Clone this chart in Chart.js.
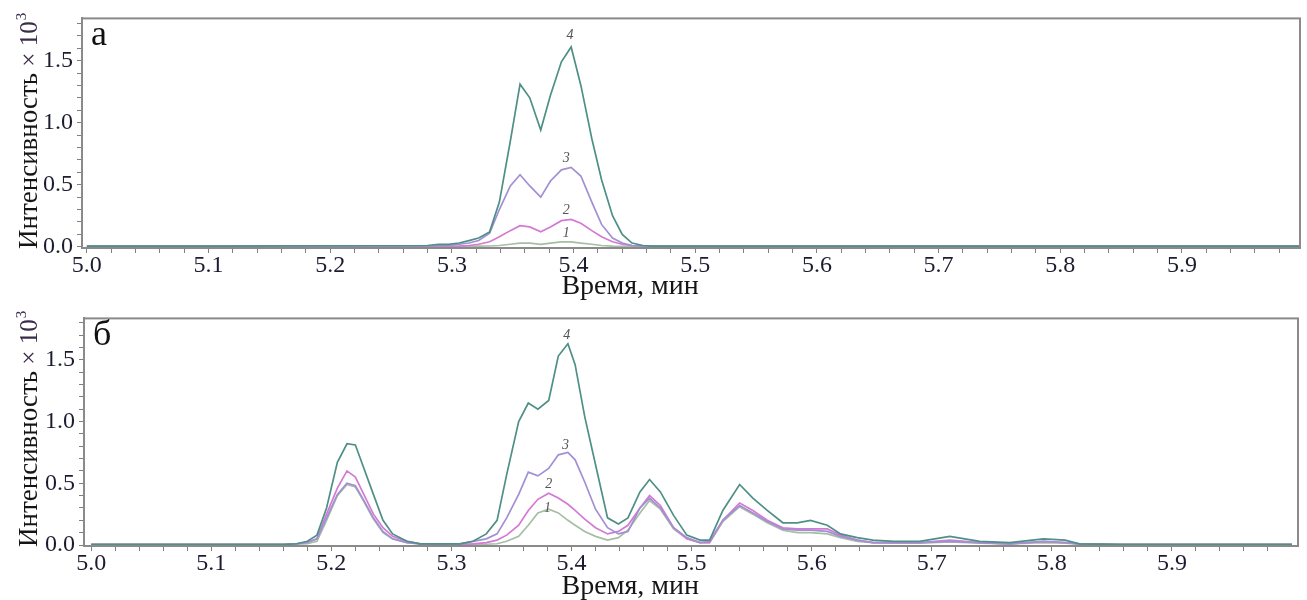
<!DOCTYPE html>
<html>
<head>
<meta charset="utf-8">
<script src="https://cdn.jsdelivr.net/npm/chart.js@4.4.1/dist/chart.umd.min.js"></script>
<style>
  body { margin: 0; background: #fff; }
  canvas { display: block; }
</style>
</head>
<body>
<canvas id="chartA" width="1307" height="300"></canvas>
<canvas id="chartB" width="1307" height="300"></canvas>
<script>
// Панель а: время (мин) и интенсивность (×10^3) для кривых 1–4
const timeA = [5.0, 5.1, 5.2, 5.28, 5.289, 5.297, 5.306, 5.314, 5.322, 5.331, 5.339, 5.348, 5.356, 5.364,
  5.373, 5.381, 5.390, 5.398, 5.406, 5.415, 5.423, 5.432, 5.440, 5.448, 5.457, 5.465, 5.474, 5.5, 5.6, 6.0];
const a1 = [0.004, 0.004, 0.004, 0.004, 0.004, 0.004, 0.004, 0.004, 0.005, 0.006, 0.01, 0.02, 0.03, 0.03,
  0.02, 0.03, 0.04, 0.04, 0.03, 0.02, 0.01, 0.005, 0.004, 0.004, 0.004, 0.004, 0.004, 0.004, 0.004, 0.004];
const a2 = [0.004, 0.004, 0.004, 0.004, 0.004, 0.004, 0.005, 0.01, 0.02, 0.04, 0.08, 0.13, 0.17, 0.16,
  0.12, 0.16, 0.21, 0.22, 0.19, 0.13, 0.08, 0.04, 0.02, 0.01, 0.005, 0.004, 0.004, 0.004, 0.004, 0.004];
const a3 = [0.004, 0.004, 0.005, 0.005, 0.01, 0.01, 0.02, 0.03, 0.05, 0.11, 0.30, 0.49, 0.58, 0.49,
  0.40, 0.53, 0.62, 0.64, 0.57, 0.36, 0.18, 0.07, 0.03, 0.01, 0.005, 0.004, 0.004, 0.004, 0.004, 0.004];
const a4 = [0.005, 0.005, 0.008, 0.01, 0.02, 0.02, 0.03, 0.05, 0.07, 0.12, 0.36, 0.85, 1.31, 1.20,
  0.94, 1.22, 1.49, 1.61, 1.30, 0.87, 0.54, 0.25, 0.10, 0.03, 0.01, 0.005, 0.005, 0.005, 0.005, 0.005];

// Панель б
const timeB = [5.0, 5.1, 5.16, 5.171, 5.180, 5.188, 5.196, 5.205, 5.213, 5.220, 5.226, 5.235, 5.243, 5.251,
  5.263, 5.274, 5.291, 5.307, 5.318, 5.329, 5.338, 5.346, 5.356, 5.364, 5.372, 5.381, 5.389, 5.397, 5.403,
  5.411, 5.420, 5.430, 5.439, 5.447, 5.457, 5.465, 5.474, 5.485, 5.496, 5.507, 5.515, 5.526, 5.540, 5.551,
  5.563, 5.576, 5.588, 5.599, 5.613, 5.624, 5.638, 5.651, 5.668, 5.690, 5.715, 5.740, 5.765, 5.793, 5.811,
  5.823, 5.857, 5.923, 6.0];
const b1 = [0.004, 0.004, 0.004, 0.006, 0.01, 0.03, 0.20, 0.40, 0.49, 0.47, 0.37, 0.21, 0.10, 0.05,
  0.02, 0.01, 0.006, 0.005, 0.005, 0.006, 0.01, 0.03, 0.07, 0.16, 0.26, 0.29, 0.26, 0.20, 0.16,
  0.11, 0.07, 0.04, 0.06, 0.12, 0.26, 0.36, 0.29, 0.13, 0.05, 0.02, 0.02, 0.19, 0.31, 0.25,
  0.18, 0.12, 0.10, 0.10, 0.09, 0.06, 0.03, 0.02, 0.015, 0.015, 0.025, 0.015, 0.01, 0.02, 0.015,
  0.006, 0.004, 0.004, 0.004];
const b2 = [0.004, 0.004, 0.004, 0.01, 0.02, 0.05, 0.25, 0.46, 0.60, 0.55, 0.43, 0.25, 0.14, 0.07,
  0.03, 0.01, 0.006, 0.005, 0.01, 0.02, 0.04, 0.08, 0.16, 0.28, 0.37, 0.42, 0.38, 0.33, 0.28,
  0.21, 0.14, 0.09, 0.11, 0.16, 0.30, 0.40, 0.32, 0.14, 0.05, 0.02, 0.02, 0.20, 0.34, 0.28,
  0.20, 0.14, 0.13, 0.13, 0.13, 0.08, 0.04, 0.02, 0.02, 0.02, 0.04, 0.02, 0.01, 0.03, 0.02,
  0.01, 0.004, 0.004, 0.004];
const b3 = [0.004, 0.004, 0.004, 0.01, 0.02, 0.05, 0.22, 0.41, 0.50, 0.48, 0.38, 0.22, 0.11, 0.05,
  0.02, 0.01, 0.008, 0.01, 0.03, 0.05, 0.09, 0.22, 0.41, 0.59, 0.56, 0.62, 0.73, 0.75, 0.69,
  0.51, 0.29, 0.14, 0.09, 0.11, 0.30, 0.38, 0.30, 0.14, 0.06, 0.02, 0.03, 0.20, 0.32, 0.26,
  0.19, 0.13, 0.12, 0.12, 0.11, 0.07, 0.04, 0.02, 0.02, 0.02, 0.03, 0.02, 0.01, 0.03, 0.02,
  0.01, 0.004, 0.004, 0.004];
const b4 = [0.005, 0.005, 0.005, 0.01, 0.03, 0.08, 0.30, 0.67, 0.82, 0.81, 0.65, 0.41, 0.20, 0.09,
  0.03, 0.01, 0.01, 0.01, 0.03, 0.09, 0.20, 0.57, 1.00, 1.15, 1.10, 1.17, 1.53, 1.63, 1.46,
  1.04, 0.65, 0.22, 0.17, 0.22, 0.43, 0.53, 0.43, 0.24, 0.08, 0.04, 0.04, 0.28, 0.49, 0.38,
  0.28, 0.18, 0.18, 0.20, 0.16, 0.09, 0.06, 0.04, 0.03, 0.03, 0.07, 0.03, 0.02, 0.05, 0.04,
  0.01, 0.005, 0.005, 0.005];

// Подписи осей
const xMajorTicks = [5.0, 5.1, 5.2, 5.3, 5.4, 5.5, 5.6, 5.7, 5.8, 5.9];
const yMajorTicks = [0.0, 0.5, 1.0, 1.5];
const xMinorStep = 0.02;
const yMinorStep = 0.1;

// Номера кривых: [номер, время, интенсивность]
const curveLabelsA = [['4', 5.397, 1.70], ['3', 5.394, 0.71], ['2', 5.394, 0.29], ['1', 5.394, 0.11]];
const curveLabelsB = [['4', 5.396, 1.70], ['3', 5.395, 0.81], ['2', 5.381, 0.49], ['1', 5.380, 0.30]];

const colors = { c1: '#a6bea4', c2: '#d37ad3', c3: '#a28fd4', c4: '#4e8f86' };
const SERIF = '"Liberation Serif", "Times New Roman", serif';

const xTickList = [];
for (let i = 0; i <= 49; i++) xTickList.push(Math.round((5.0 + i * xMinorStep) * 1000) / 1000);
const yTickList = [];
for (let i = 0; i <= 18; i++) yTickList.push(Math.round(i * yMinorStep * 10) / 10);

function isMajor(v, list) {
  return list.some(m => Math.abs(m - v) < 1e-6);
}

const panelPlugin = {
  id: 'panelDeco',
  afterDraw(chart, args, opts) {
    const ctx = chart.ctx;
    const area = chart.chartArea;
    const xs = chart.scales.x, ys = chart.scales.y;
    ctx.save();
    // рамка
    ctx.strokeStyle = '#8a8a8a';
    ctx.lineWidth = 2;
    ctx.strokeRect(area.left, area.top, area.right - area.left, area.bottom - area.top);

    // буква панели
    ctx.fillStyle = '#111';
    ctx.font = '36px ' + SERIF;
    ctx.textAlign = 'left';
    ctx.textBaseline = 'alphabetic';
    ctx.fillText(opts.letter, area.left + 9, area.top + 27);

    // номера кривых
    ctx.font = 'italic 14px ' + SERIF;
    ctx.fillStyle = '#555';
    ctx.textAlign = 'center';
    ctx.textBaseline = 'middle';
    opts.curveLabels.forEach(([txt, t, v]) => {
      ctx.fillText(txt, xs.getPixelForValue(t), ys.getPixelForValue(v));
    });

    // подпись оси X
    ctx.font = '28px ' + SERIF;
    ctx.fillStyle = '#151515';
    ctx.textAlign = 'center';
    ctx.textBaseline = 'alphabetic';
    ctx.fillText('Время, мин', area.left + (area.right - area.left) * 0.45, 294);

    // подпись оси Y
    ctx.translate(37, area.bottom + 1);
    ctx.rotate(-Math.PI / 2);
    ctx.textAlign = 'left';
    ctx.fillStyle = '#151515';
    ctx.font = '27px ' + SERIF;
    const main = 'Интенсивность';
    ctx.fillText(main, 0, 0);
    let w = ctx.measureText(main).width;
    ctx.fillStyle = '#3b2b4b';
    ctx.font = '25px ' + SERIF;
    const mul = ' × 10';
    ctx.fillText(mul, w, 0);
    w += ctx.measureText(mul).width;
    ctx.font = '15px ' + SERIF;
    ctx.fillText('3', w + 1, -11);
    ctx.restore();
  }
};

function makeChart(id, time, series, cfg) {
  const ctx = document.getElementById(id).getContext('2d');
  const mk = (arr, color) => ({
    data: time.map((t, i) => ({ x: t, y: arr[i] })),
    borderColor: color,
    borderWidth: 1.7,
    pointRadius: 0,
    tension: 0,
    fill: false
  });
  new Chart(ctx, {
    type: 'line',
    data: {
      datasets: [
        mk(series[3], colors.c4),
        mk(series[2], colors.c3),
        mk(series[1], colors.c2),
        mk(series[0], colors.c1)
      ]
    },
    options: {
      responsive: false,
      animation: false,
      layout: { padding: { left: 0, top: cfg.top, right: cfg.right, bottom: 0 } },
      plugins: {
        legend: { display: false },
        tooltip: { enabled: false },
        panelDeco: { letter: cfg.letter, curveLabels: cfg.curveLabels }
      },
      scales: {
        x: {
          type: 'linear',
          min: cfg.xMin,
          max: cfg.xMax,
          afterBuildTicks: s => { s.ticks = xTickList.map(v => ({ value: v })); },
          afterFit: s => { s.height = cfg.xHeight; },
          ticks: {
            autoSkip: false,
            maxRotation: 0,
            padding: -2,
            color: '#1c1c30',
            font: { family: SERIF, size: 24 },
            callback: v => isMajor(v, xMajorTicks) ? v.toFixed(1) : ''
          },
          grid: { drawOnChartArea: false, tickLength: 5, color: '#808080' },
          border: { color: '#808080', width: 2 }
        },
        y: {
          min: cfg.yMin,
          max: cfg.yMax,
          afterBuildTicks: s => { s.ticks = yTickList.map(v => ({ value: v })); },
          afterFit: s => { s.width = cfg.left; },
          ticks: {
            autoSkip: false,
            padding: 4,
            color: '#1c1c30',
            font: { family: SERIF, size: 24 },
            callback: v => isMajor(v, yMajorTicks) ? v.toFixed(1) : ''
          },
          grid: { drawOnChartArea: false, tickLength: 5, color: '#808080' },
          border: { color: '#808080', width: 2 }
        }
      }
    },
    plugins: [panelPlugin]
  });
}

makeChart('chartA', timeA, [a1, a2, a3, a4], {
  letter: 'а', curveLabels: curveLabelsA,
  xMin: 4.996, xMax: 5.997, yMin: -0.01, yMax: 1.84,
  top: 14, right: 7, left: 82, xHeight: 52
});
makeChart('chartB', timeB, [b1, b2, b3, b4], {
  letter: 'б', curveLabels: curveLabelsB,
  xMin: 4.994, xMax: 6.005, yMin: -0.008, yMax: 1.835,
  top: 13, right: 9, left: 84, xHeight: 54
});
</script>
</body>
</html>
